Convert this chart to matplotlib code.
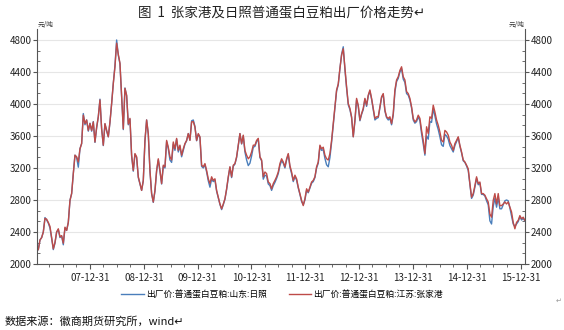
import matplotlib
matplotlib.use('Agg')
import matplotlib.pyplot as plt
import matplotlib.dates as mdates
from matplotlib.ticker import MultipleLocator, AutoMinorLocator
import pandas as pd

plt.rcParams['font.family'] = ['Noto Sans CJK SC', 'DejaVu Sans']

title = '图  1  张家港及日照普通蛋白豆粕出厂价格走势↵'
source = '数据来源：徽商期货研究所，wind↵'
unit = '元/吨'
name_rizhao = '出厂价:普通蛋白豆粕:山东:日照'
name_zjg = '出厂价:普通蛋白豆粕:江苏:张家港'

first_day = '2007-01-15'
last_day = '2016-01-29'
year_ticks = ['2007-12-31', '2008-12-31', '2009-12-31', '2010-12-31', '2011-12-31',
              '2012-12-31', '2013-12-31', '2014-12-31', '2015-12-31']

# 江苏:张家港 (roughly every 11 days)
price_zjg = [
  2180, 2300, 2330, 2400, 2570, 2560, 2520, 2470, 2330, 2190, 2270, 2400, 2440, 2340, 2355, 2260,
  2460, 2420, 2520, 2795, 2880, 3130, 3360, 3340, 3275, 3440, 3505, 3860, 3755, 3800, 3670, 3755,
  3670, 3775, 3525, 3710, 3840, 4050, 3690, 3485, 3755, 3670, 3590, 3775, 4005, 4255, 4465, 4760,
  4620, 4510, 4100, 3690, 4195, 4110, 3750, 3820, 3360, 3170, 3380, 3340, 3090, 3005, 2920, 3045,
  3545, 3800, 3630, 3170, 2880, 2775, 2920, 3170, 3315, 3170, 3005, 3235, 3215, 3545, 3460, 3340,
  3300, 3525, 3440, 3570, 3420, 3485, 3360, 3440, 3505, 3545, 3630, 3545, 3775, 3780, 3710, 3545,
  3630, 3590, 3235, 3215, 3255, 3170, 3065, 3005, 3090, 3045, 3065, 2920, 2835, 2750, 2690, 2750,
  2815, 2940, 3090, 3215,
  3090, 3235, 3255, 3340, 3485, 3630, 3505, 3610, 3420, 3360, 3315, 3340, 3400, 3485, 3485, 3545,
  3570, 3340, 3300, 3090, 3150, 3130, 3025, 3005, 2940, 3005, 3045, 3090, 3150, 3255, 3315, 3275,
  3215, 3315, 3380, 3230, 3150, 3045, 3110, 3065, 2960, 2880, 2795, 2730, 2815, 2940, 2900, 2960,
  3025, 3045, 3090, 3215, 3275, 3485, 3440, 3460, 3360, 3315, 3300, 3380, 3545, 3755, 3965, 4175,
  4250, 4445, 4610, 4690, 4450, 4215, 4005, 3945, 3840, 3590, 3800, 4070, 3985, 3800, 3880, 3945,
  4070, 3985, 4110, 4175, 4070, 3945, 3820, 3840, 3840, 3965, 4090, 4130, 3925, 3840, 3820, 3840,
  3755, 3880, 4175, 4300, 4340, 4420,
  4465, 4340, 4300, 4155, 4130, 4070, 3965, 3820, 3775, 3800, 3860, 3820, 3670, 3545, 3380, 3715,
  3630, 3840, 3820, 3985, 3900, 3800, 3735, 3650, 3545, 3525, 3670, 3650, 3610, 3525, 3485, 3420,
  3505, 3545, 3590, 3485, 3400, 3300, 3275, 3235, 3190, 3005, 2835, 2880, 2980, 3090, 3005, 3025,
  2880, 2880, 2860, 2815, 2775, 2625, 2585, 2795, 2880, 2750, 2880, 2730, 2730, 2750, 2775, 2750,
  2775, 2710, 2650, 2520, 2440, 2520, 2545, 2605, 2565, 2585, 2545,
]

# 山东:日照
price_rizhao = [
  2180, 2300, 2330, 2400, 2580, 2550, 2510, 2450, 2320, 2180, 2260, 2400, 2430, 2330, 2350, 2240,
  2450, 2420, 2520, 2795, 2880, 3130, 3360, 3330, 3210, 3440, 3505, 3880, 3740, 3800, 3660, 3760,
  3660, 3780, 3520, 3700, 3840, 4060, 3690, 3480, 3750, 3660, 3590, 3770, 4005, 4260, 4480, 4800,
  4610, 4500, 4100, 3680, 4200, 4100, 3740, 3810, 3350, 3160, 3370, 3330, 3080, 3000, 2920, 3040,
  3540, 3800, 3620, 3160, 2880, 2770, 2910, 3160, 3300, 3160, 3000, 3220, 3200, 3530, 3440, 3300,
  3270, 3500, 3420, 3560, 3400, 3470, 3340, 3420, 3500, 3540, 3630, 3550, 3790, 3800, 3720, 3540,
  3620, 3580, 3220, 3200, 3240, 3150, 3040, 2960, 3060, 3030, 3050, 2910, 2830, 2745, 2680, 2740,
  2810, 2930, 3080, 3210,
  3080, 3220, 3250, 3330, 3480, 3630, 3500, 3600, 3400, 3300, 3230, 3260, 3350, 3460, 3470, 3530,
  3560, 3330, 3290, 3060, 3110, 3100, 3000, 2980, 2920, 2980, 3020, 3070, 3130, 3230, 3290, 3260,
  3200, 3300, 3370, 3210, 3130, 3030, 3090, 3050, 2950, 2870, 2780, 2740, 2800, 2920, 2890, 2950,
  3010, 3030, 3080, 3200, 3260, 3470, 3420, 3430, 3320, 3240, 3215, 3330, 3520, 3740, 3950, 4160,
  4240, 4440, 4620, 4715, 4430, 4200, 3990, 3930, 3830, 3590, 3780, 4050, 3970, 3790, 3870, 3930,
  4060, 3970, 4100, 4160, 4060, 3930, 3800, 3820, 3830, 3950, 4080, 4120, 3910, 3830, 3800, 3820,
  3740, 3860, 4150, 4280, 4320, 4400,
  4440, 4310, 4270, 4130, 4110, 4050, 3950, 3800, 3760, 3780, 3840, 3790, 3630, 3500, 3360, 3600,
  3560, 3780, 3770, 3940, 3850, 3750, 3680, 3590, 3490, 3470, 3620, 3600, 3560, 3480, 3440, 3400,
  3480, 3530, 3580, 3470, 3390, 3290, 3270, 3225, 3170, 2990, 2820, 2860, 2960, 3070, 2990, 3010,
  2870, 2870, 2850, 2790, 2740, 2540, 2500, 2720, 2820, 2710, 2830, 2690, 2690, 2740, 2790, 2800,
  2790, 2700, 2600, 2500, 2470, 2500, 2530, 2590, 2550, 2570, 2540,
]

dates = pd.date_range(first_day, last_day, periods=len(price_zjg))

fig = plt.figure(figsize=(5.64, 3.30), dpi=100)
ax = fig.add_axes([0.0661, 0.2, 0.8648, 0.7112])

ax.plot(dates, price_rizhao, color='#4A7EBB', lw=1.0, label=name_rizhao)
ax.plot(dates, price_zjg, color='#BE4B48', lw=1.0, label=name_zjg)

ax.set_ylim(2000, 4933.3)
ax.set_xlim(pd.Timestamp('2007-01-08'), pd.Timestamp('2016-01-30'))
ax.yaxis.set_major_locator(MultipleLocator(400))
ax.yaxis.set_minor_locator(AutoMinorLocator(3))
ax.set_xticks(pd.to_datetime(year_ticks))
ax.set_xticks(pd.date_range('2007-03-31', '2015-12-31', freq='QE'), minor=True)
ax.xaxis.set_major_formatter(mdates.DateFormatter('%y-%m-%d'))

ax.grid(axis='y', color='#E6E6E6', lw=0.8)
ax.set_axisbelow(True)
for s in ['left', 'right', 'bottom']:
  ax.spines[s].set_color('#555555')
  ax.spines[s].set_linewidth(0.8)
ax.spines['top'].set_visible(False)

ax.tick_params(axis='y', which='major', direction='out', length=3, color='#555555',
               labelsize=7, labelcolor='#222222', right=True, labelright=True, pad=1)
ax.tick_params(axis='y', which='minor', direction='in', length=2.5, color='#555555', right=True)
ax.tick_params(axis='x', which='major', direction='out', length=3.5, color='#555555',
               labelsize=7, labelcolor='#222222', pad=3)
ax.tick_params(axis='x', which='minor', direction='out', length=2, color='#555555')

ax.text(0.0, 1.0, unit, transform=ax.transAxes, fontsize=4.8, ha='left', va='bottom', color='#333333')
ax.text(1.0, 1.0, unit, transform=ax.transAxes, fontsize=4.8, ha='right', va='bottom', color='#333333')

fig.text(0.5, 0.96, title, fontsize=9.7, ha='center', va='center', color='#222222')
fig.text(0.009, 0.025, source, fontsize=8, ha='left', va='center', color='#111111')
fig.text(0.99, 0.09, '↵', fontsize=5, ha='center', va='center', color='#999999')

fig.legend(loc='center', bbox_to_anchor=(0.5, 0.106), ncol=2, frameon=False, fontsize=6.3,
           handlelength=2.6, handletextpad=0.2, columnspacing=2.5, borderaxespad=0)

fig.savefig('out.png', dpi=100)
